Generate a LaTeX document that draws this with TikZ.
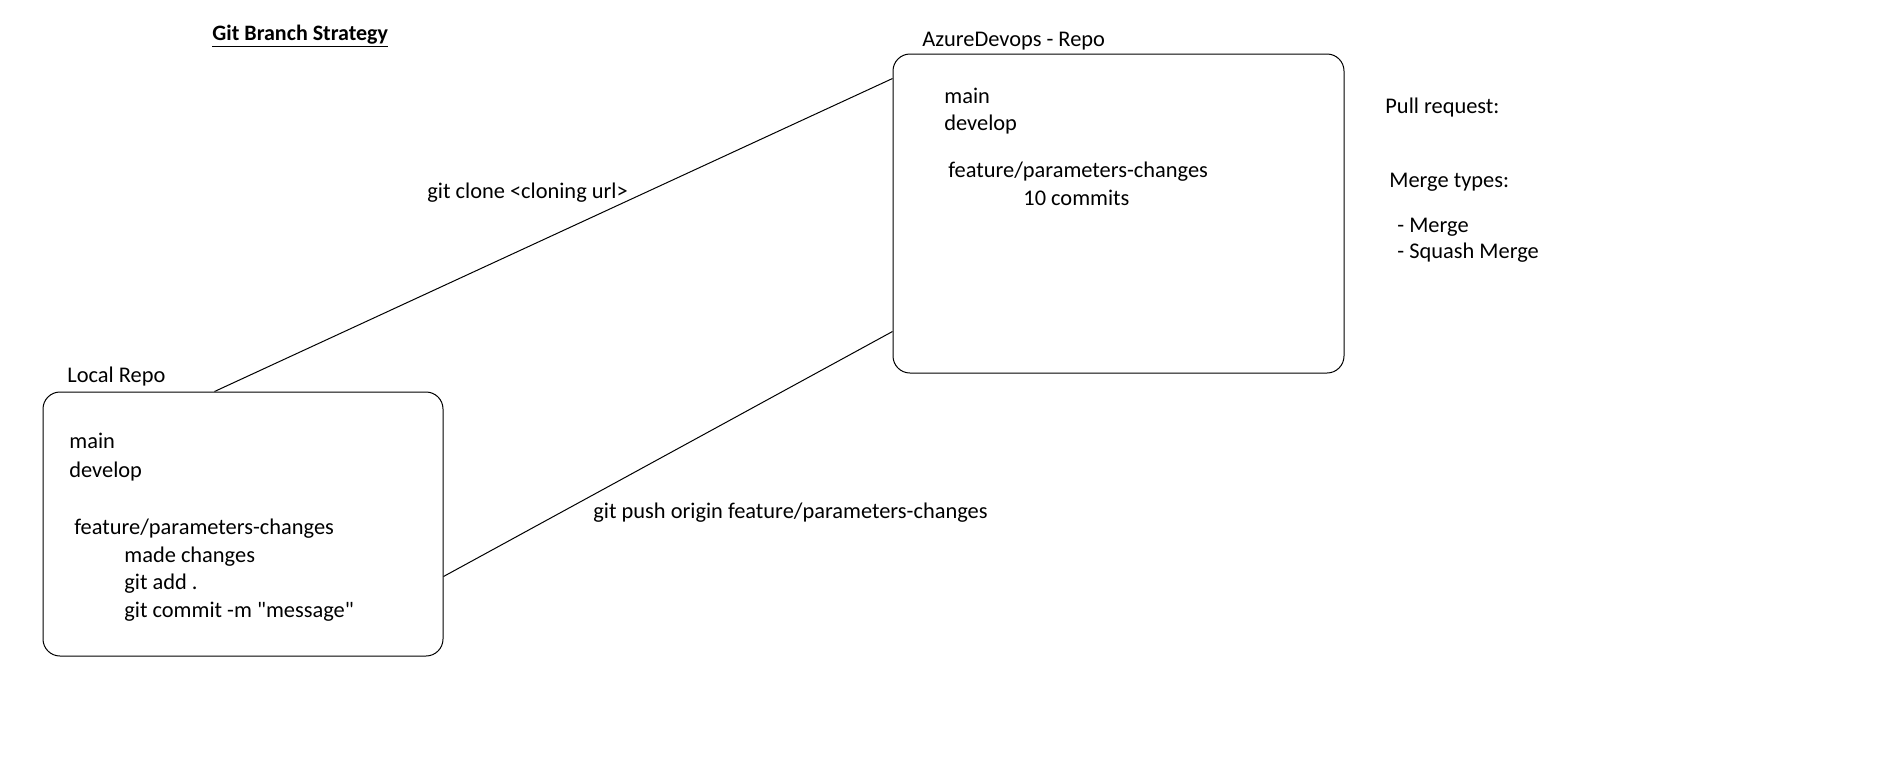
\documentclass[tikz,border=0pt]{standalone}
\usepackage{fontspec}
\setmainfont{Carlito}
\usepackage{tikz}
\usetikzlibrary{positioning,calc}
\tikzset{
repo/.style = {draw, rectangle, rounded corners=8.5pt, line width=0.5pt},
txt/.style  = {anchor=base west, inner sep=0pt, font=\fontsize{11.2}{13.5}\selectfont},
head/.style = {anchor=base west, inner sep=0pt, font=\fontsize{11}{13}\selectfont\bfseries},
link/.style = {line width=0.5pt}
}
\begin{document}
\begin{tikzpicture}[x=0.5pt,y=-0.5pt]
	\useasboundingbox (0,0) rectangle (1902,773);
	\node[head] (title) at (212,40) {\underline{Git Branch Strategy}};
	% repositories
	\node[repo, minimum width=225.5pt, minimum height=159.5pt] (azure) at (1118.5,213.5) {};
	\node[repo, minimum width=200pt, minimum height=132pt] (local) at (243,524) {};
	\node[txt] (azurename) at (922,46) {AzureDevops - Repo};
	\node[txt] (localname) at (67,382) {Local Repo};
	% remote branches
	\node[txt] (azmain) at (944,103) {main};
	\node[txt] (azdevelop) at (944,130) {develop};
	\node[txt] (azfeature) at (948,177) {feature/parameters-changes};
	\node[txt] (azcommits) at (1023,205) {10 commits};
	% local branches
	\node[txt] (locmain) at (69,448) {main};
	\node[txt] (locdevelop) at (69,477) {develop};
	\node[txt] (locfeature) at (74,534) {feature/parameters-changes};
	\node[txt] (locchanges) at (124,562) {made changes};
	\node[txt] (locadd) at (124,589) {git add .};
	\node[txt] (loccommit) at (124,617) {git commit -m \textquotedbl message\textquotedbl};
	% pull request notes
	\node[txt] (pullreq) at (1385,113) {Pull request:};
	\node[txt] (mergetypes) at (1389,187) {Merge types:};
	\node[txt] (merge) at (1397,232) {- Merge};
	\node[txt] (squash) at (1397,258) {- Squash Merge};
	% commands
	\draw[link] ([xshift=86pt]local.north west) -- ([yshift=-12.5pt]azure.north west);
	\draw[link] ([yshift=-92.5pt]local.north east) -- ([yshift=-139pt]azure.north west);
	\node[txt] (clone) at (427,198) {git clone <cloning url>};
	\node[txt] (push) at (593,518) {git push origin feature/parameters-changes};
\end{tikzpicture}
\end{document}
